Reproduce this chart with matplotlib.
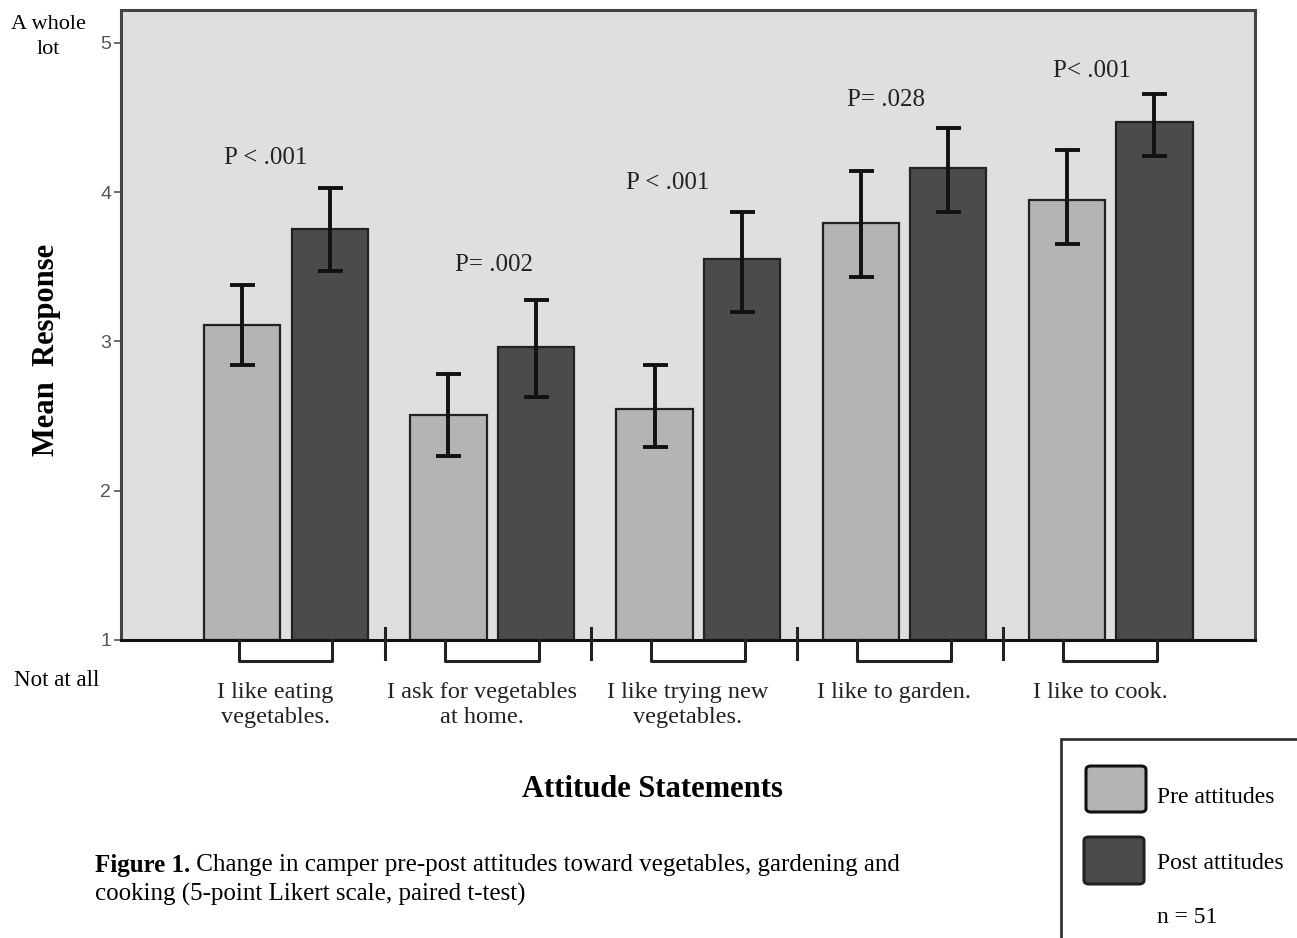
import numpy as np
import matplotlib
matplotlib.use("Agg")
import matplotlib.pyplot as plt
from matplotlib.patches import Rectangle, FancyBboxPatch

# data
statements = ["I like eating\nvegetables.", "I ask for vegetables\nat home.",
              "I like trying new\nvegetables.", "I like to garden.", "I like to cook."]
pre_mean = [3.11, 2.51, 2.55, 3.79, 3.95]
pre_hi = [3.38, 2.78, 2.84, 4.14, 4.28]
pre_lo = [2.84, 2.23, 2.29, 3.43, 3.65]
post_mean = [3.75, 2.96, 3.55, 4.16, 4.47]
post_hi = [4.03, 3.28, 3.87, 4.43, 4.66]
post_lo = [3.47, 2.63, 3.20, 3.87, 4.24]
p_labels = ["P < .001", "P= .002", "P < .001", "P= .028", "P< .001"]

# where the p-value labels sit (x offset from group centre, y in data units)
p_pos = [(-0.10, 4.23), (0.01, 3.51), (-0.15, 4.06), (-0.09, 4.62), (-0.09, 4.81)]

serif = "Liberation Serif"
pre_col = "#b4b4b4"
post_col = "#4b4b4b"

fig = plt.figure(figsize=(12.97, 9.38), dpi=100)
ax = fig.add_axes([121/1297, 1-640/938, (1255-121)/1297, (640-10)/938])
ax.set_facecolor("#dfdfdf")

x = np.arange(len(statements))
w = 0.37
off = 0.212
pre = np.array(pre_mean)
post = np.array(post_mean)
pre_err = [pre - np.array(pre_lo), np.array(pre_hi) - pre]
post_err = [post - np.array(post_lo), np.array(post_hi) - post]

ax.bar(x - off, pre - 1, w, bottom=1, color=pre_col, edgecolor="#222222", linewidth=1.6, zorder=2)
ax.bar(x + off, post - 1, w, bottom=1, color=post_col, edgecolor="#222222", linewidth=1.6, zorder=2)
ax.errorbar(x - off, pre, yerr=pre_err, fmt="none", ecolor="#111111", elinewidth=2.8,
            capsize=9, capthick=2.8, zorder=3)
ax.errorbar(x + off, post, yerr=post_err, fmt="none", ecolor="#111111", elinewidth=2.8,
            capsize=9, capthick=2.8, zorder=3)

for i, lab in enumerate(p_labels):
    ax.text(x[i] + p_pos[i][0], p_pos[i][1], lab, ha="center", va="center",
            fontsize=18, family=serif, color="#222222")

# brackets under each group and separators between groups
for i in x:
    ax.plot([i - 0.23, i - 0.23, i + 0.225, i + 0.225], [1.0, 0.86, 0.86, 1.0],
            color="#222222", lw=2.2, clip_on=False, zorder=4)
for i in x[:-1]:
    ax.plot([i + 0.48, i + 0.48], [1.08, 0.87], color="#222222", lw=2.2,
            clip_on=False, zorder=4)

ax.set_xlim(-0.80, 4.70)
ax.set_ylim(1, 5.22)
ax.set_yticks([1, 2, 3, 4, 5])
ax.tick_params(axis="y", length=5, width=1.2, colors="#555555", labelsize=14, pad=2)
for t in ax.get_yticklabels():
    t.set_family("Liberation Sans")
ax.set_xticks(x - 0.05)
ax.set_xticklabels(statements, family=serif, fontsize=17.5, linespacing=1.3, color="#222222")
ax.tick_params(axis="x", length=0, pad=30)
for s in ax.spines.values():
    s.set_color("#444444")
    s.set_linewidth(2.2)
ax.spines["bottom"].set_color("#111111")

fig.text(47/1297, 1-350/938, "Mean  Response", rotation=90, ha="center", va="center",
         fontsize=22, fontweight="bold", family=serif)
fig.text(48/1297, 1-37/938, "A whole\nlot", ha="center", va="center", fontsize=16,
         family=serif, linespacing=1.4)
fig.text(57/1297, 1-680/938, "Not at all", ha="center", va="center", fontsize=16.5, family=serif)
fig.text(652/1297, 1-789/938, "Attitude Statements", ha="center", va="center",
         fontsize=22, fontweight="bold", family=serif)

# caption
cap = fig.text(95/1297, 1-865/938, "Figure 1.", ha="left", va="center", fontsize=18,
               fontweight="bold", family=serif)
ax.annotate(" Change in camper pre-post attitudes toward vegetables, gardening and",
            xy=(1, 0.5), xycoords=cap, ha="left", va="center", fontsize=18, family=serif)
fig.text(95/1297, 1-894/938, "cooking (5-point Likert scale, paired t-test)", ha="left",
         va="center", fontsize=18, family=serif)

# legend box
fig.patches.append(Rectangle((1061/1297, -0.05), 0.25, 1-739/938+0.05,
                             transform=fig.transFigure, facecolor="white",
                             edgecolor="#333333", lw=2, clip_on=False))
fig.patches.append(FancyBboxPatch((1086/1297, 1-812/938), 60/1297, 46/938,
                                  boxstyle="round,pad=0,rounding_size=0.004",
                                  transform=fig.transFigure, facecolor=pre_col,
                                  edgecolor="#111111", lw=2.2))
fig.patches.append(FancyBboxPatch((1084/1297, 1-884/938), 60/1297, 47/938,
                                  boxstyle="round,pad=0,rounding_size=0.004",
                                  transform=fig.transFigure, facecolor=post_col,
                                  edgecolor="#222222", lw=2.2))
fig.text(1157/1297, 1-797/938, "Pre attitudes", ha="left", va="center", fontsize=17, family=serif)
fig.text(1157/1297, 1-863/938, "Post attitudes", ha="left", va="center", fontsize=17, family=serif)
fig.text(1157/1297, 1-917/938, "n = 51", ha="left", va="center", fontsize=17, family=serif)

fig.savefig("out.png", dpi=100)
